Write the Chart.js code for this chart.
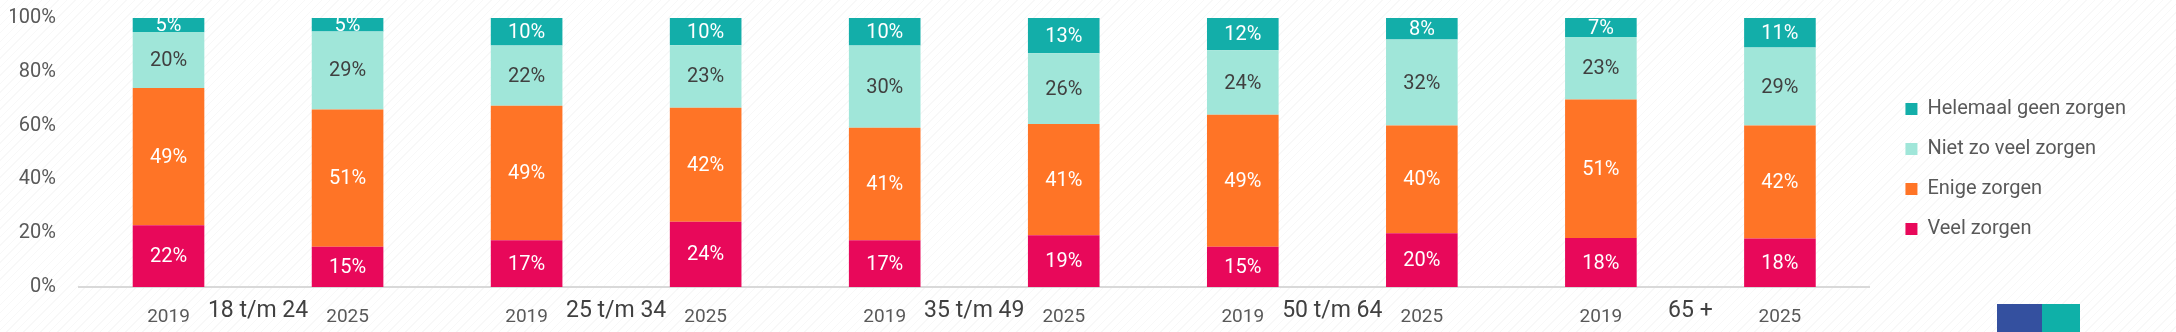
<!DOCTYPE html>
<html>
<head>
<meta charset="utf-8">
<script src="https://cdn.jsdelivr.net/npm/chart.js@4/dist/chart.umd.min.js"></script>
<style>
    body {
        margin: 0;
        background: repeating-linear-gradient(135deg, #ffffff 0 5px, #f8f8f8 5px 6px);
    }
    #wrap { position: relative; width: 2176px; height: 332px; }
    #logo {
        position: absolute; left: 1997px; top: 304px; width: 83px; height: 28px;
        background: linear-gradient(90deg, #34509f 0 45px, #0fb0a8 45px 83px);
    }
</style>
</head>
<body>
<div id="wrap">
    <canvas id="chartZorgen" width="2176" height="332"></canvas>
    <div id="logo"></div>
</div>
<script>
// jaren per balk en leeftijdsgroepen
const years = ["2019", "2025", "2019", "2025", "2019", "2025", "2019", "2025", "2019", "2025"];
const groups = ["18 t/m 24", "25 t/m 34", "35 t/m 49", "50 t/m 64", "65 +"];

// percentages zoals in de labels
const veelZorgen = [22, 15, 17, 24, 17, 19, 15, 20, 18, 18];
const enigeZorgen = [49, 51, 49, 42, 41, 41, 49, 40, 51, 42];
const nietZoVeel = [20, 29, 22, 23, 30, 26, 24, 32, 23, 29];
const geenZorgen = [5, 5, 10, 10, 10, 13, 12, 8, 7, 11];

const yTicks = [0, 20, 40, 60, 80, 100];

const series = [
    { label: "Veel zorgen", values: veelZorgen, color: "#e8085a", text: "#ffffff" },
    { label: "Enige zorgen", values: enigeZorgen, color: "#ff7426", text: "#ffffff" },
    { label: "Niet zo veel zorgen", values: nietZoVeel, color: "#a0e6d9", text: "#404040" },
    { label: "Helemaal geen zorgen", values: geenZorgen, color: "#13aea9", text: "#ffffff" },
];

// 100% gestapeld: elke balk wordt geschaald naar zijn eigen totaal
const totals = years.map((y, i) => series.reduce((s, d) => s + d.values[i], 0));

const FONT = "Roboto, 'DejaVu Sans', sans-serif";

const segmentLabels = {
    id: "segmentLabels",
    afterDatasetsDraw(chart) {
        const ctx = chart.ctx;
        ctx.save();
        ctx.font = "20px " + FONT;
        ctx.textAlign = "center";
        ctx.textBaseline = "middle";
        chart.data.datasets.forEach((ds, i) => {
            const meta = chart.getDatasetMeta(i);
            meta.data.forEach((bar, j) => {
                const p = bar.getProps(["x", "y", "base"], true);
                ctx.fillStyle = series[i].text;
                ctx.fillText(series[i].values[j] + "%", p.x, (p.y + p.base) / 2 + 1);
            });
        });
        ctx.restore();
    },
};

const groupLabels = {
    id: "groupLabels",
    afterDraw(chart) {
        const ctx = chart.ctx;
        const x = chart.scales.x;
        ctx.save();
        ctx.font = "23px " + FONT;
        ctx.fillStyle = "#404040";
        ctx.textAlign = "center";
        ctx.textBaseline = "middle";
        groups.forEach((g, i) => {
            const mid = (x.getPixelForValue(2 * i) + x.getPixelForValue(2 * i + 1)) / 2;
            ctx.fillText(g, mid, 311);
        });
        ctx.restore();
    },
};

const ctx = document.getElementById("chartZorgen").getContext("2d");
const chart = new Chart(ctx, {
    type: "bar",
    data: {
        labels: years,
        datasets: series.map((s) => ({
            label: s.label,
            data: s.values.map((v, i) => (v / totals[i]) * 100),
            backgroundColor: s.color,
            borderWidth: 0,
            categoryPercentage: 1,
            barPercentage: 0.4,
        })),
    },
    options: {
        responsive: false,
        animation: false,
        layout: { padding: { left: 10, top: 6, right: 40, bottom: 0 } },
        plugins: {
            legend: {
                position: "right",
                reverse: true,
                labels: {
                    boxWidth: 12,
                    boxHeight: 12,
                    padding: 20,
                    color: "#595959",
                    font: { family: FONT, size: 20 },
                },
            },
            tooltip: { enabled: false },
        },
        scales: {
            x: {
                stacked: true,
                grid: { display: false, drawTicks: false },
                border: { color: "#d9d9d9", width: 2 },
                ticks: {
                    color: "#595959",
                    padding: 19,
                    maxRotation: 0,
                    font: { family: FONT, size: 19 },
                },
                afterFit(scale) {
                    scale.height = 45;
                },
            },
            y: {
                stacked: true,
                min: 0,
                max: 100,
                grid: { display: false, drawTicks: true, tickLength: 17 },
                border: { display: false },
                afterBuildTicks(scale) {
                    scale.ticks = yTicks.map((v) => ({ value: v }));
                },
                ticks: {
                    color: "#595959",
                    padding: 6,
                    font: { family: FONT, size: 20 },
                    callback: (v) => v + "%",
                },
                afterFit(scale) {
                    scale.width = 69;
                },
            },
            gap: {
                position: "right",
                display: true,
                grid: { display: false, drawTicks: false },
                border: { display: false },
                ticks: { display: false },
                afterFit(scale) {
                    scale.width = 16;
                },
            },
        },
    },
    plugins: [segmentLabels, groupLabels],
});
</script>
</body>
</html>
